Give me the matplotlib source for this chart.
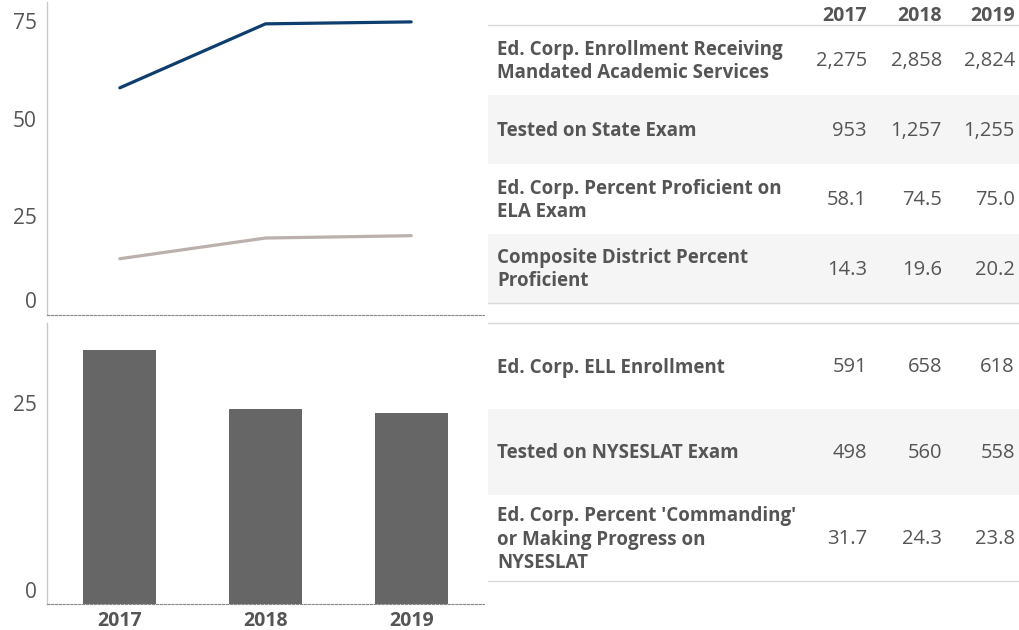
import matplotlib.pyplot as plt
from matplotlib.patches import Rectangle

plt.rcParams['font.family'] = ['Open Sans', 'DejaVu Sans']

# Data
years = ['2017', '2018', '2019']
ela_proficient = [58.1, 74.5, 75.0]
district_proficient = [14.3, 19.6, 20.2]
nyseslat_progress = [31.7, 24.3, 23.8]

top_labels = ['Ed. Corp. Enrollment Receiving\nMandated Academic Services',
              'Tested on State Exam',
              'Ed. Corp. Percent Proficient on\nELA Exam',
              'Composite District Percent\nProficient']
top_values = [['2,275', '2,858', '2,824'],
              ['953', '1,257', '1,255'],
              ['58.1', '74.5', '75.0'],
              ['14.3', '19.6', '20.2']]

bottom_labels = ['Ed. Corp. ELL Enrollment',
                 'Tested on NYSESLAT Exam',
                 "Ed. Corp. Percent 'Commanding'\nor Making Progress on\nNYSESLAT"]
bottom_values = [['591', '658', '618'],
                 ['498', '560', '558'],
                 ['31.7', '24.3', '23.8']]

W, H = 1019, 630
txt = '#555555'
fig = plt.figure(figsize=(W / 100, H / 100), dpi=100)


def px_axes(x0, y0, x1, y1):
    return fig.add_axes([x0 / W, 1 - y1 / H, (x1 - x0) / W, (y1 - y0) / H])


def style(ax, ymax, ticks):
    ax.set_xlim(-0.5, 2.5)
    ax.set_ylim(0, ymax)
    for s in ['top', 'right']:
        ax.spines[s].set_visible(False)
    ax.spines['left'].set_color('#c8c8c8')
    ax.spines['left'].set_linewidth(1)
    ax.spines['bottom'].set_color('#888888')
    ax.spines['bottom'].set_linestyle((0, (2, 1.5)))
    ax.spines['bottom'].set_linewidth(0.8)
    ax.set_yticks(ticks)
    ax.set_yticklabels([])
    ax.tick_params(length=0)
    for t in ticks:
        off = 12 if t == 0 else -2
        ax.annotate(str(t), (0, t), xycoords=('axes fraction', 'data'),
                    xytext=(-10, off), textcoords='offset pixels',
                    ha='right', va='center', fontsize=15, color=txt)


# top: line chart
ax1 = px_axes(47, 2, 484, 314.5)
ax1.plot(range(3), ela_proficient, color='#0e3e6e', lw=2.3, solid_capstyle='round')
ax1.plot(range(3), district_proficient, color='#bab0ac', lw=2.3, solid_capstyle='round')
style(ax1, 80.1, [0, 25, 50, 75])
ax1.set_xticks([])

# bottom: bar chart
ax2 = px_axes(47, 323, 484, 604)
ax2.bar(range(3), nyseslat_progress, width=0.5, color='#666666')
style(ax2, 35.1, [0, 25])
ax2.set_xticks(range(3))
ax2.set_xticklabels(years, fontsize=14, fontweight='bold', color=txt)
ax2.tick_params(axis='x', pad=5)

# table
axt = fig.add_axes([0, 0, 1, 1])
axt.set_xlim(0, W)
axt.set_ylim(H, 0)
axt.axis('off')
axt.set_zorder(-1)

col_x = [867, 942, 1015]
for x, yr in zip(col_x, years):
    axt.text(x, 16, yr, ha='right', va='center', fontsize=14, fontweight='bold', color=txt)


def table(y0, row_h, labels, values):
    for i, (lab, vals) in enumerate(zip(labels, values)):
        top = y0 + i * row_h
        if i % 2 == 1:
            axt.add_patch(Rectangle((488, top), W - 488, row_h, color='#f5f5f5', lw=0))
        yc = top + row_h / 2 + 1.5
        axt.text(497, yc, lab, ha='left', va='center', fontsize=13.5, fontweight='bold',
                 color=txt, linespacing=1.2)
        for x, v in zip(col_x, vals):
            axt.text(x, yc, v, ha='right', va='center', fontsize=14.5, color=txt)
    axt.plot([488, W], [y0, y0], color='#d9d9d9', lw=1)
    yb = y0 + len(labels) * row_h
    axt.plot([488, W], [yb, yb], color='#d9d9d9', lw=1)


table(25, 69.5, top_labels, top_values)
table(323, 86, bottom_labels, bottom_values)

fig.savefig('out.png', dpi=100)
